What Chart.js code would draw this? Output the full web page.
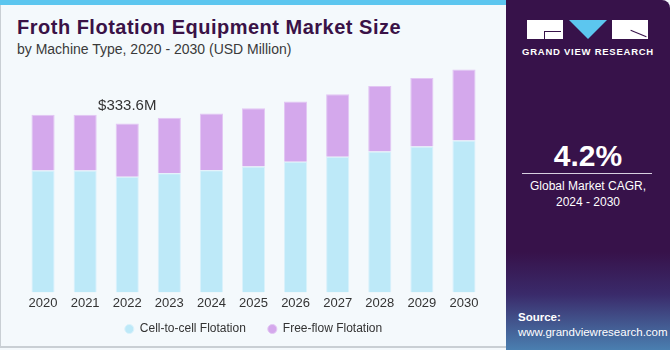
<!DOCTYPE html>
<html>
<head>
<meta charset="utf-8">
<script src="https://cdn.jsdelivr.net/npm/chart.js@4.4.1/dist/chart.umd.min.js"></script>
<style>
  html, body { margin: 0; padding: 0; }
  body { width: 670px; height: 350px; position: relative; overflow: hidden; background: #f4f9fc; font-family: "Liberation Sans", Arial, sans-serif; }
  .left { position: absolute; left: 0; top: 0; width: 506px; height: 348px; border-left: 1px solid #c9cfd4; border-bottom: 2px solid #c9cfd4; box-sizing: border-box; }
  .topbar { position: absolute; left: 0; top: 0; width: 506px; height: 5px; background: #5cc6ef; }
  h1 { position: absolute; left: 17px; top: 16px; margin: 0; font-size: 20px; font-weight: bold; color: #3a1247; letter-spacing: 0.5px; }
  .sub { position: absolute; left: 17px; top: 41px; font-size: 14px; color: #3a3a3a; }
  .chartbox { position: absolute; left: 0; top: 52px; width: 500px; height: 308px; }
  .right { position: absolute; left: 506px; top: 0; width: 164px; height: 350px; border-top-right-radius: 8px;
    background: linear-gradient(to bottom, #37124a 0%, #37124a 72%, #3a2a6a 84%, #4a7fb0 100%); color: #fff; }
  .logo { position: absolute; top: 20px; height: 19px; background: #fff; }
  .mark { position: absolute; background: #37124a; }
  .tri { position: absolute; left: 63px; top: 20px; width: 0; height: 0; border-left: 19px solid transparent; border-right: 19px solid transparent; border-top: 19px solid #5cc6ef; }
  .gvr { position: absolute; left: 0; width: 164px; top: 46px; text-align: center; font-size: 9.5px; font-weight: bold; letter-spacing: 0.75px; }
  .cagr { position: absolute; left: 0; width: 164px; top: 139px; text-align: center; font-size: 30px; font-weight: bold; }
  .rule { position: absolute; left: 16px; width: 130px; top: 173px; height: 1px; background: #d8d0e0; }
  .cagrtxt { position: absolute; left: 0; width: 164px; top: 178px; text-align: center; font-size: 12px; line-height: 16px; }
  .src { position: absolute; left: 12px; top: 310px; font-size: 11.5px; line-height: 15px; }
</style>
</head>
<body>
<div class="left"></div>
<div class="topbar"></div>
<h1>Froth Flotation Equipment Market Size</h1>
<div class="sub">by Machine Type, 2020 - 2030 (USD Million)</div>
<div class="chartbox"><canvas id="c" width="500" height="308"></canvas></div>
<div class="right">
  <div class="logo" style="left:21px;width:36px;"></div>
  <div class="mark" style="left:38px;top:31px;width:17px;height:1px;"></div>
  <div class="mark" style="left:38px;top:31px;width:1px;height:8px;"></div>
  <div class="tri"></div>
  <div class="logo" style="left:106px;width:36px;"></div>
  <div class="mark" style="left:124px;top:33px;width:17px;height:1px;transform:rotate(22deg);"></div>
  <div class="gvr">GRAND VIEW RESEARCH</div>
  <div class="cagr">4.2%</div>
  <div class="rule"></div>
  <div class="cagrtxt">Global Market CAGR,<br>2024 - 2030</div>
  <div class="src"><b>Source:</b><br>www.grandviewresearch.com</div>
</div>
<script>
// categories and series (USD Million)
const years = ['2020', '2021', '2022', '2023', '2024', '2025', '2026', '2027', '2028', '2029', '2030'];
const cellToCell = [240.7, 240.7, 228.2, 235.3, 241.3, 248.6, 257.9, 267.8, 278.2, 288.1, 300.0];
const freeFlow = [110.1, 110.1, 105.4, 109.6, 112.1, 115.3, 119.2, 123.7, 129.2, 135.1, 140.4];
const seriesNames = ['Cell-to-cell Flotation', 'Free-flow Flotation'];
const annotationIndex = 2;
const annotationText = '$333.6M';

const labelPlugin = {
  id: 'totalLabel',
  afterDatasetsDraw(chart) {
    const bar = chart.getDatasetMeta(1).data[annotationIndex];
    const ctx = chart.ctx;
    ctx.save();
    ctx.font = '15px "Liberation Sans", Arial, sans-serif';
    ctx.fillStyle = '#333';
    ctx.textAlign = 'center';
    ctx.textBaseline = 'middle';
    ctx.fillText(annotationText, bar.x, bar.y - 18);
    ctx.restore();
  }
};

// pull the legend up closer to the year labels
const legendShift = {
  id: 'legendShift',
  afterLayout(chart) {
    chart.legend.top -= 13;
    chart.legend.bottom -= 13;
  }
};

new Chart(document.getElementById('c'), {
  type: 'bar',
  data: {
    labels: years,
    datasets: [
      { label: seriesNames[0], data: cellToCell, backgroundColor: '#bde9f8', borderColor: '#d9f1fb', borderWidth: 1 },
      { label: seriesNames[1], data: freeFlow, backgroundColor: '#d4a8ec', borderColor: '#e2c6f3', borderWidth: 1 }
    ]
  },
  options: {
    responsive: false,
    animation: false,
    layout: { padding: { left: 22, right: 15, top: 9, bottom: 2 } },
    datasets: { bar: { categoryPercentage: 0.55, barPercentage: 1 } },
    scales: {
      x: {
        stacked: true,
        grid: { display: false, drawTicks: false },
        border: { display: false },
        ticks: { padding: 3, color: '#333', font: { size: 13, family: '"Liberation Sans", Arial, sans-serif' } }
      },
      y: { stacked: true, display: false, min: 0, max: 457 }
    },
    plugins: {
      legend: {
        position: 'bottom',
        labels: {
          usePointStyle: true, pointStyle: 'circle', boxWidth: 9, boxHeight: 6.4, padding: 22,
          color: '#333', font: { size: 12, family: '"Liberation Sans", Arial, sans-serif' }
        }
      },
      tooltip: { enabled: false }
    }
  },
  plugins: [labelPlugin, legendShift]
});
</script>
</body>
</html>
